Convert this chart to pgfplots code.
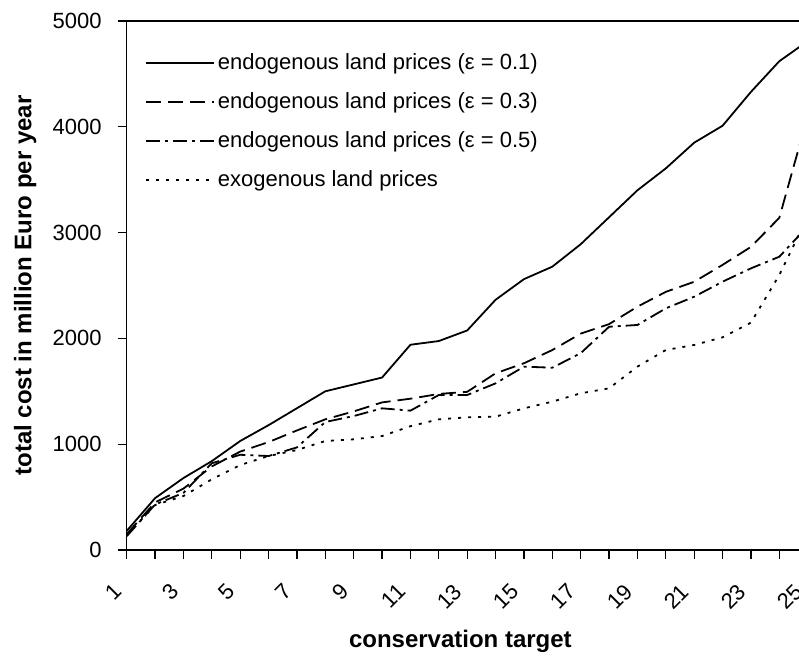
\documentclass[border=0pt]{standalone}
\usepackage{fontspec}
\setmainfont{Liberation Sans}
\usepackage{pgfplots}
\pgfplotsset{compat=1.18}
\begin{document}
\begin{tikzpicture}
\begin{axis}[
  at={(0,0)}, anchor=south west,
  scale only axis, width=340.5pt, height=264.5pt,
  xmin=1, xmax=25, ymin=0, ymax=5000,
  xtick={1,3,...,25},
  minor xtick={2,4,...,24},
  ytick={0,1000,...,5000},
  tick align=outside, major tick length=4.5pt, minor tick length=4.5pt,
  xtick pos=left, ytick pos=left,
  /pgf/number format/assume math mode=true,
  /pgf/number format/1000 sep={},
  tick label style={font=\fontsize{11}{13}\selectfont},
  xticklabel style={xshift=-2pt, yshift=-12pt, rotate=45, anchor=east},
  yticklabel style={xshift=-4.5pt},
  ylabel={total cost in million Euro per year},
  xlabel={conservation target},
  label style={font=\fontsize{12}{14}\selectfont\bfseries},
  xlabel style={at={(axis description cs:0.49,-0.172)}, anchor=center},
  ylabel style={at={(axis description cs:-0.149,0.5)}, anchor=center},
  axis line style={line width=0.75pt},
  tick style={black, line width=0.6pt},
  minor tick style={black, line width=0.6pt},
  legend style={at={(axis description cs:0,1)}, anchor=north west, xshift=9pt, yshift=-14.5pt,
    draw=none, fill=none, font=\fontsize{11}{13}\selectfont, row sep=7pt, inner sep=0pt,
    nodes={inner sep=1.5pt}},
  legend cell align=left,
  legend image code/.code={\draw[#1] (0pt,0pt) -- (34pt,0pt);},
]
\addplot[black, solid, no markers, line width=0.9pt] coordinates {(1,180)(2,490)(3,680)(4,840)(5,1030)(6,1180)(7,1340)(8,1500)(9,1565)(10,1630)(11,1940)(12,1975)(13,2075)(14,2365)(15,2560)(16,2678)(17,2890)(18,3145)(19,3400)(20,3607)(21,3850)(22,4010)(23,4330)(24,4620)(25,4810)};
\addlegendentry{endogenous land prices (ε = 0.1)}
\addplot[black, no markers, line width=0.9pt, dash pattern=on 7.5pt off 3.5pt] coordinates {(1,150)(2,450)(3,580)(4,790)(5,930)(6,1020)(7,1130)(8,1235)(9,1310)(10,1395)(11,1430)(12,1475)(13,1495)(14,1670)(15,1765)(16,1890)(17,2045)(18,2135)(19,2300)(20,2440)(21,2535)(22,2695)(23,2865)(24,3140)(25,4100)};
\addlegendentry{endogenous land prices (ε = 0.3)}
\addplot[black, no markers, line width=0.9pt, dash pattern=on 7pt off 2.5pt on 1.5pt off 2.5pt] coordinates {(1,130)(2,430)(3,540)(4,820)(5,900)(6,888)(7,970)(8,1210)(9,1266)(10,1339)(11,1317)(12,1465)(13,1465)(14,1575)(15,1733)(16,1723)(17,1860)(18,2110)(19,2127)(20,2284)(21,2394)(22,2536)(23,2662)(24,2772)(25,3060)};
\addlegendentry{endogenous land prices (ε = 0.5)}
\addplot[black, no markers, line width=0.9pt, dash pattern=on 1.5pt off 3.5pt] coordinates {(1,140)(2,425)(3,510)(4,668)(5,803)(6,888)(7,945)(8,1030)(9,1046)(10,1077)(11,1170)(12,1235)(13,1254)(14,1260)(15,1339)(16,1402)(17,1481)(18,1528)(19,1733)(20,1890)(21,1938)(22,2010)(23,2149)(24,2600)(25,3150)};
\addlegendentry{exogenous land prices}
\end{axis}
\pgfresetboundingbox
\useasboundingbox (-63.35pt,-56.5pt) rectangle (336.15pt,275pt);
\end{tikzpicture}
\end{document}
